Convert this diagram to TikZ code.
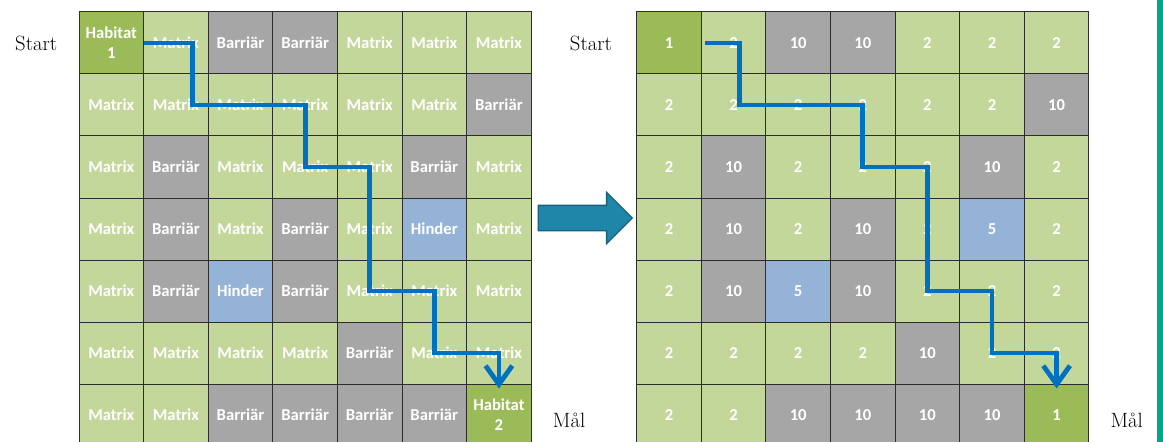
\documentclass[tikz,border=0pt]{standalone}
\usepackage{fontspec}
\usetikzlibrary{arrows.meta,positioning,shapes.arrows,calc}
\newfontfamily\cellfont{Carlito}
\definecolor{habitat}{RGB}{155,187,89}
\definecolor{matrixgreen}{RGB}{196,215,155}
\definecolor{hinderblue}{RGB}{149,179,215}
\definecolor{barriergray}{RGB}{166,166,166}
\definecolor{gridline}{RGB}{45,45,45}
\definecolor{routeblue}{RGB}{0,112,192}
\definecolor{shiftblue}{RGB}{31,134,170}
\definecolor{shiftedge}{RGB}{22,96,128}
\definecolor{edgeteal}{RGB}{0,166,140}
\tikzset{
  cell/.style={draw=gridline,line width=0.75pt,minimum width=48.45pt,minimum height=46.5pt,
    inner sep=0pt,text=white,font=\cellfont\bfseries\fontsize{12.5}{15}\selectfont,align=center},
  cost1/.style={fill=habitat},
  cost2/.style={fill=matrixgreen},
  cost5/.style={fill=hinderblue},
  cost10/.style={fill=barriergray},
  route/.style={draw=routeblue,line width=3.6pt,-{Straight Barb[length=14pt,width=20pt]}},
  place/.style={font=\fontsize{15.5}{18}\selectfont,inner sep=0pt},
}
% what each cost stands for in the left grid
\pgfkeyssetvalue{/area/1}{Habitat\\\hab}
\pgfkeyssetvalue{/area/2}{Matrix}
\pgfkeyssetvalue{/area/5}{Hinder}
\pgfkeyssetvalue{/area/10}{Barriär}

\begin{document}
\begin{tikzpicture}[x=0.75pt,y=-0.75pt]
  \path[use as bounding box,fill=white] (0,0) rectangle (1163,442);
  \foreach \row [count=\r] in {{1,2,10,10,2,2,2},{2,2,2,2,2,2,10},{2,10,2,2,2,10,2},
      {2,10,2,10,2,5,2},{2,10,5,10,2,2,2},{2,2,2,2,10,2,2},{2,2,10,10,10,10,1}}{
    \pgfmathtruncatemacro\hab{\r==1 ? 1 : 2}
    \foreach \v [count=\c] in \row {
      \node[cell,cost\v] (L\r\c) at ({79+64.6*(\c-0.5)},{12+62*(\r-0.5)}) {\pgfkeysvalueof{/area/\v}};
      \node[cell,cost\v] (R\r\c) at ({636.7+64.6*(\c-0.5)},{12+62*(\r-0.5)}) {\v};
    }
  }
  \node[place,left=15.75pt of L11] (start1) {Start};
  \node[place,left=18pt of R11] (start2) {Start};
  \node[place,right=15.75pt of L77,yshift=-4pt] (goal1) {Mål};
  \node[place,right=15.75pt of R77,yshift=-4pt] (goal2) {Mål};
  % least cost route
  \draw[route] (L11.east) -| ($(L22.center)!0.5!(L22.east)$) -| (L34.center) -| (L55.center)
    -| (L66.center) -| ($(L77.north)+(0,5)$);
  \draw[route] ($(R11.east)+(3,0)$) -| ($(R22.center)+(6,0)$) -| (R34.center) -| (R55.center)
    -| (R66.center) -| ($(R77.north)+(0,5)$);
  \node[single arrow,draw=shiftedge,fill=shiftblue,line width=1pt,inner xsep=0pt,inner ysep=9pt,
    minimum height=70.5pt,single arrow head extend=9.75pt,
    single arrow tip angle=90] (shift) at ($($(L47.east)!0.5!(R41.west)$)+(-5,-11)$) {};
  \fill[edgeteal] (1157,0) rectangle (1163,442);
\end{tikzpicture}
\end{document}
